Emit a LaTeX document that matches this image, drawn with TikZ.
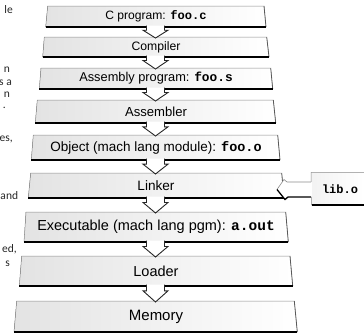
\documentclass[tikz,border=0pt]{standalone}
\usepackage{fontspec}
\setmainfont{Liberation Sans}
\newfontfamily\filefont{Liberation Mono}
\newfontfamily\sidefont{Carlito}
\usetikzlibrary{calc}

% file names in bold typewriter
\newcommand\fname[1]{{\filefont\bfseries #1}}

\tikzset{
  slabedge/.style={draw=black!45, line width=0.5pt},
  slabside/.style={draw=black!65, line width=0.8pt},
  slabbase/.style={draw=black, line width=1.7pt},
  flowline/.style={draw=black!85, line width=0.9pt, line join=miter},
  sidetext/.style={font=\sidefont\fontsize{11.5}{12}\selectfont, anchor=base east,
                   inner sep=0pt, text=black!85},
}

% a tilted slab: name, top y, bottom y, top-left x, bottom-left x,
% top-right x, bottom-right x, font size, label
\newcommand\slab[9]{%
  \fill[left color=black!11, right color=white] (#4,#2) -- (#6,#2) -- (#7,#3) -- (#5,#3) -- cycle;
  \draw[slabedge] (#5,#3) -- (#4,#2) -- (#6,#2);
  \draw[slabside] (#6,#2) -- (#7,#3);
  \draw[slabbase] (#5,#3) -- (#7,#3);
  \coordinate (#1-t) at (155.5,#2);
  \coordinate (#1-b) at (155.5,#3);
  \node[font=\fontsize{#8}{#8}\selectfont, inner sep=0pt] (#1) at (156,{(#2+#3)/2}) {#9};
}

% hollow down arrow from the bottom of one slab to the top of the next
\newcommand\downflow[2]{%
  \path[fill=white, flowline] let \p1=(#1-b), \p2=(#2-t), \n1={0.32*(\y2-\y1)} in
    (\x1-9pt,\y1+1.3pt) -- (\x1-9pt,\y1+\n1) -- (\x1-12.5pt,\y1+\n1)
    -- (\x1,\y2-1pt) -- (\x1+12.5pt,\y1+\n1) -- (\x1+9pt,\y1+\n1) -- (\x1+9pt,\y1+1.3pt);
}

\begin{document}
\begin{tikzpicture}[x=1pt,y=-1pt]
\useasboundingbox (0,0) rectangle (364,333);
\begin{scope}
\clip (0,0) rectangle (364,333);

% ends of the neighbouring text lines
\node[sidetext] (s1) at (13,13) {le};
\node[sidetext] (s2) at (10,72) {n};
\node[sidetext] (s3) at (12,85) {s a};
\node[sidetext] (s4) at (10,97) {n};
\node[sidetext] (s5) at (6,108) {.};
\node[sidetext] (s6) at (13,141) {es,};
\node[sidetext, anchor=base west] (s7) at (0.3,199) {and};
\node[sidetext] (s8) at (17,252) {ed,};
\node[sidetext] (s9) at (10,266) {s};

% the tool chain
\slab{src}{6}{27}{47.7}{45.7}{264}{266}{12.1}{C program: \fname{foo.c}}
\slab{cc}{37}{57}{44.3}{42.7}{266.7}{269}{12.2}{Compiler}
\slab{asm}{68}{89}{41}{39.3}{270.7}{272.7}{12.8}{Assembly program: \fname{foo.s}}
\slab{as}{100}{123}{37.3}{35.3}{273.3}{275.7}{13.1}{Assembler}
\slab{obj}{135}{160}{33.3}{31.3}{277.7}{280}{13.5}{Object (mach lang module): \fname{foo.o}}
\slab{ld}{173}{198}{30.7}{28.3}{281.7}{284}{13.6}{Linker}
\slab{exe}{212}{242}{26}{24}{285.7}{288.3}{14.5}{Executable (mach lang pgm): \fname{a.out}}
\slab{load}{256}{286}{21.7}{19.3}{290}{292.7}{14.5}{Loader}
\slab{mem}{301}{332}{16.7}{14}{294.3}{297.3}{15}{Memory}

\downflow{src}{cc}
\downflow{cc}{asm}
\downflow{asm}{as}
\downflow{as}{obj}
\downflow{obj}{ld}
\downflow{ld}{exe}
\downflow{exe}{load}
\downflow{load}{mem}

% library object feeding the linker
\fill[left color=black!5, right color=white] (311,172) rectangle (364,205);
\draw[draw=black!30, line width=0.5pt] (364,172) -- (311,172);
\draw[slabedge] (311,172) -- (311.5,205);
\draw[slabbase] (311.5,205) -- (364,205);
\node[font=\fontsize{12}{12}\selectfont, inner sep=0pt] (libo) at (340,189) {\fname{lib.o}};
\coordinate (libo-w) at (311,189.5);
\coordinate (ld-in) at (277,189.5);

\fill[white] (libo-w) ++(1,-7.5) -- ++(-25,0) -- ++(-3,-2.5) -- (ld-in)
  -- ++(8,10) -- ++(3,-2.5) -- ++(24,0) -- cycle;
\draw[slabedge, line width=0.6pt] (libo-w) ++(0,-7.5) -- ++(-24,0) -- ++(-3,-2.5) -- (ld-in);
\draw[draw=black, line width=1.3pt, line join=miter] (ld-in) -- ++(8,10) -- ++(3,-2.5) -- ++(23,0);
\end{scope}
\end{tikzpicture}
\end{document}
